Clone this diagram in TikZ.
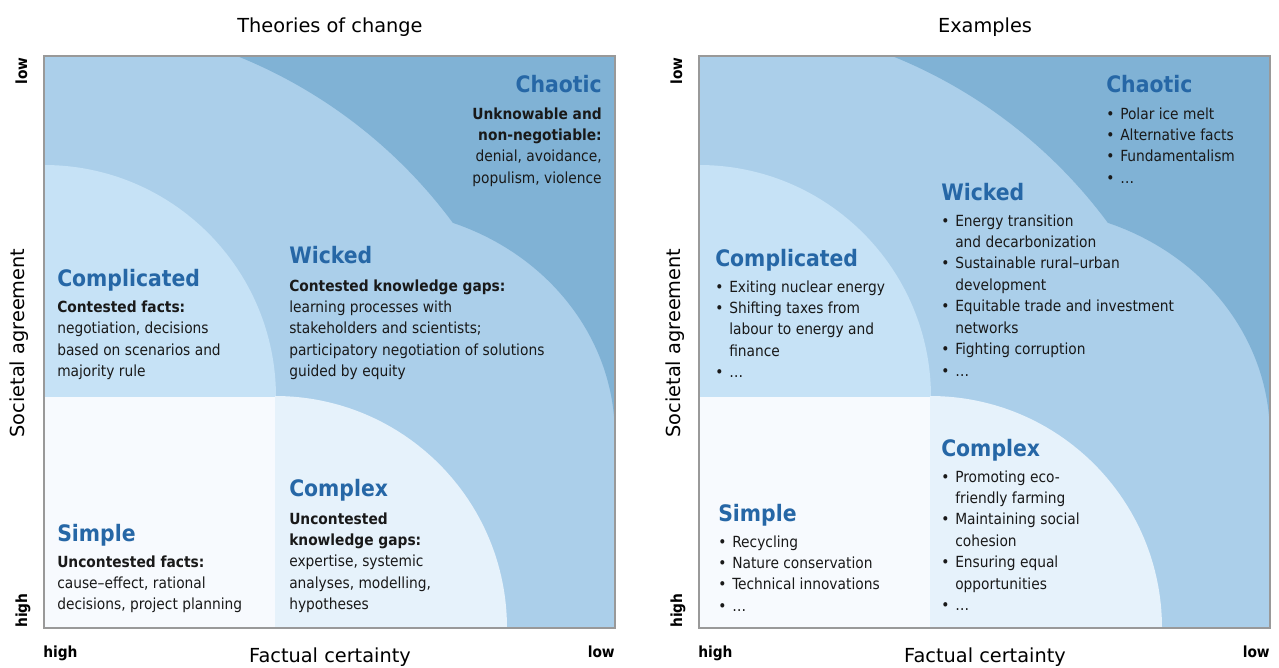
\documentclass[tikz,border=0pt]{standalone}
\usepackage{fontspec}
\setmainfont{DejaVu Sans}
\newfontfamily\condfont{DejaVu Sans Condensed}[BoldFont={DejaVu Sans Condensed Bold},Ligatures=TeX]
\usetikzlibrary{positioning}

\definecolor{chaoticblue}{RGB}{128,178,213}
\definecolor{wickedblue}{RGB}{171,207,234}
\definecolor{complblue}{RGB}{198,226,246}
\definecolor{complexblue}{RGB}{230,242,251}
\definecolor{simplewhite}{RGB}{247,250,254}
\definecolor{headblue}{RGB}{38,103,166}
\definecolor{framegray}{RGB}{153,153,153}

\newcommand{\lblk}[1]{\begin{tabular}[t]{@{}l@{}}#1\end{tabular}}
\newcommand{\rblk}[1]{\begin{tabular}[t]{@{}r@{}}#1\end{tabular}}
\newcommand{\itm}{\makebox[10.5pt][l]{\textbullet}}
\newcommand{\cnt}{\hspace*{10.5pt}}

\begin{document}
\begin{tikzpicture}[x=0.75pt,y=-0.75pt,
    hd/.style={font=\condfont\bfseries\fontsize{17}{20}\selectfont, text=headblue, inner sep=0pt},
    bd/.style={font=\condfont\fontsize{11.5}{16.1}\selectfont, text=black!90, inner sep=0pt},
    ax/.style={font=\fontsize{14.5}{17}\selectfont, inner sep=0pt},
    hl/.style={font=\condfont\bfseries\fontsize{11.5}{14}\selectfont, inner sep=0pt},
    frame/.style={draw=framegray, line width=1.7pt}]

\useasboundingbox (0,0) rectangle (1279,668);

% the two panels have the same fields and axes
\foreach \ox/\nm in {0/t,655/e}{
  \begin{scope}[shift={(\ox,0)}]
    \begin{scope}
      \clip (44,56) rectangle (615,628);
      \fill[wickedblue] (44,56) rectangle (615,628);
      \fill[chaoticblue] (237,56) arc[start angle=-68.1, end angle=-36.5, radius=501]
        arc[start angle=-69.7, end angle=0, x radius=248, y radius=226]
        -- (625,435) -- (625,46) -- (237,46) -- cycle;
      \fill[complblue] (44,397) -- (44,165) arc[start angle=-90, end angle=0, radius=232] -- cycle;
      \fill[simplewhite] (44,397) rectangle (275,628);
      \fill[complexblue] (275,628) -- (275,396) arc[start angle=-90, end angle=0, radius=232] -- cycle;
    \end{scope}
    \draw[frame] (44,56) rectangle (615,628);

    % axes
    \node[ax, rotate=90, anchor=base] (\nm soc) at (25,343) {Societal agreement};
    \node[hl, rotate=90, anchor=base east] (\nm ylow) at (27,57) {low};
    \node[hl, rotate=90, anchor=base west] (\nm yhigh) at (27,628) {high};
    \node[ax, anchor=base] (\nm fact) at (330,662) {Factual certainty};
    \node[hl, anchor=base west] (\nm xhigh) at (43,657) {high};
    \node[hl, anchor=base east] (\nm xlow) at (615,657) {low};
  \end{scope}
}

% titles
\node[ax, anchor=base] (ttitle) at (330,32) {Theories of change};
\node[ax, anchor=base] (etitle) at (985,32) {Examples};

% Theories of change
\node[hd, anchor=base east] (tchaotic) at (602,92.5) {Chaotic};
\node[bd, anchor=base east] (tchaotictx) at (602,119)
  {\rblk{\textbf{Unknowable and}\\\textbf{non-negotiable:}\\denial, avoidance,\\populism, violence}};

\node[hd, anchor=base west] (twicked) at (289,263) {Wicked};
\node[bd, anchor=base west] (twickedtx) at (289,291)
  {\lblk{\textbf{Contested knowledge gaps:}\\learning processes with\\stakeholders and scientists;\\participatory negotiation of solutions\\guided by equity}};

\node[hd, anchor=base west] (tcompl) at (57,286) {Complicated};
\node[bd, anchor=base west] (tcompltx) at (57,312.5)
  {\lblk{\textbf{Contested facts:}\\negotiation, decisions\\based on scenarios and\\majority rule}};

\node[hd, anchor=base west] (tcomplex) at (289,496.5) {Complex};
\node[bd, anchor=base west] (tcomplextx) at (289,524)
  {\lblk{\textbf{Uncontested}\\\textbf{knowledge gaps:}\\expertise, systemic\\analyses, modelling,\\hypotheses}};

\node[hd, anchor=base west] (tsimple) at (57,541.5) {Simple};
\node[bd, anchor=base west] (tsimpletx) at (57,567)
  {\lblk{\textbf{Uncontested facts:}\\cause–effect, rational\\decisions, project planning}};

% Examples
\node[hd, anchor=base west] (echaotic) at (1106,92.5) {Chaotic};
\node[bd, anchor=base west] (echaotictx) at (1106,119)
  {\lblk{\itm Polar ice melt\\\itm Alternative facts\\\itm Fundamentalism\\\itm …}};

\node[hd, anchor=base west] (ewicked) at (941,200.5) {Wicked};
\node[bd, anchor=base west] (ewickedtx) at (941,226)
  {\lblk{\itm Energy transition\\\cnt and decarbonization\\\itm Sustainable rural–urban\\\cnt development\\\itm Equitable trade and investment\\\cnt networks\\\itm Fighting corruption\\\itm …}};

\node[hd, anchor=base west] (ecompl) at (715,266.5) {Complicated};
\node[bd, anchor=base west] (ecompltx) at (715,292)
  {\lblk{\itm Exiting nuclear energy\\\itm Shifting taxes from\\\cnt labour to energy and\\\cnt finance\\\itm …}};

\node[hd, anchor=base west] (ecomplex) at (941,456.5) {Complex};
\node[bd, anchor=base west] (ecomplextx) at (941,482)
  {\lblk{\itm Promoting eco-\\\cnt friendly farming\\\itm Maintaining social\\\cnt cohesion\\\itm Ensuring equal\\\cnt opportunities\\\itm …}};

\node[hd, anchor=base west] (esimple) at (718,521.5) {Simple};
\node[bd, anchor=base west] (esimpletx) at (718,547)
  {\lblk{\itm Recycling\\\itm Nature conservation\\\itm Technical innovations\\\itm …}};

\end{tikzpicture}
\end{document}
